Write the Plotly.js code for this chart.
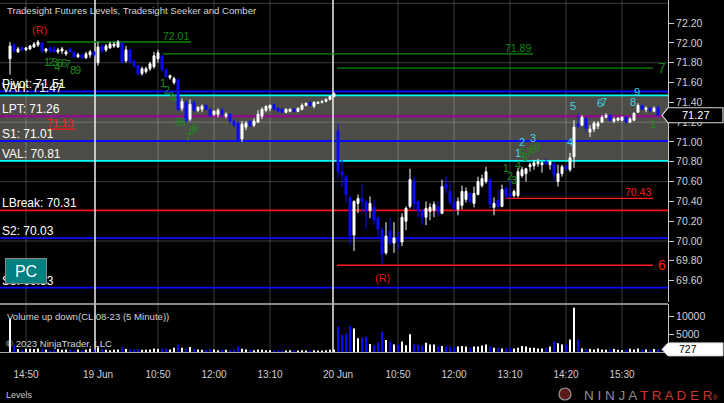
<!DOCTYPE html>
<html><head><meta charset="utf-8">
<script src="https://cdn.plot.ly/plotly-3.0.1.min.js"></script>
<style>html,body{margin:0;padding:0;background:#000;}#chart{width:724px;height:403px;}</style>
</head><body><div id="chart"></div>
<script>
// ---------- DATA (5-minute bars, CL 08-23) ----------
// session 1 (16 Jun, 22 bars), session 2 (19 Jun, 60 bars), session 3 (20 Jun, 81 bars)
const open = [
71.84,71.98,71.91,71.95,71.93,71.94,71.96,71.98,72.00,71.92,71.95,71.94,71.91,71.92,71.89,71.94,71.91,71.86,71.88,71.85,71.88,71.91,
71.80,71.97,71.93,71.95,71.97,71.96,72.00,71.82,71.93,71.82,71.77,71.69,71.71,71.74,71.76,71.84,71.87,71.73,71.65,71.60,71.63,71.34,71.40,71.23,
71.40,71.32,71.33,71.37,71.33,71.28,71.28,71.32,71.26,71.28,71.21,71.19,71.03,71.15,71.21,71.17,71.20,71.26,71.32,71.34,71.38,71.34,71.33,71.30,
71.31,71.33,71.31,71.33,71.37,71.40,71.36,71.39,71.40,71.41,71.43,71.46,
71.11,70.70,70.65,70.44,70.06,70.38,70.43,70.40,70.31,70.34,70.23,70.11,69.88,70.10,69.98,70.03,69.99,70.20,70.35,70.60,70.40,70.31,70.24,70.30,
70.31,70.35,70.28,70.57,70.50,70.39,70.32,70.36,70.42,70.48,70.38,70.47,70.56,70.60,70.62,70.34,70.41,70.35,70.53,70.48,70.46,70.46,70.66,70.68,
70.75,70.76,70.78,70.77,70.80,70.77,70.78,70.60,70.68,70.76,70.72,70.85,71.18,71.17,71.24,71.10,71.13,71.16,71.20,71.25,71.27,71.21,71.22,71.22,
71.25,71.20,71.22,71.30,71.37,71.33,71.34,71.31,71.35];
const high = [
72.01,72.00,71.96,71.97,71.96,71.98,72.01,72.03,72.01,71.95,71.97,71.97,71.95,71.96,71.93,71.96,71.92,71.90,71.89,71.91,71.93,71.92,
72.01,71.99,71.99,72.01,72.01,72.03,72.01,71.97,71.94,71.83,71.78,71.76,71.76,71.81,71.91,71.93,71.88,71.74,71.68,71.66,71.64,71.44,71.42,71.43,
71.42,71.36,71.38,71.38,71.34,71.32,71.34,71.34,71.30,71.29,71.23,71.21,71.21,71.21,71.22,71.24,71.32,71.35,71.37,71.38,71.39,71.35,71.34,71.34,
71.34,71.34,71.35,71.39,71.40,71.40,71.41,71.41,71.42,71.44,71.47,71.50,
71.19,70.82,70.67,70.46,70.41,70.47,70.58,70.41,70.45,70.41,70.25,70.14,70.19,70.23,70.19,70.09,70.28,70.35,70.73,70.65,70.41,70.32,70.40,70.38,
70.40,70.40,70.62,70.65,70.59,70.44,70.44,70.56,70.54,70.49,70.55,70.65,70.67,70.75,70.63,70.44,70.52,70.57,70.55,70.62,70.52,70.74,70.75,70.74,
70.79,70.82,70.83,70.80,70.83,70.81,70.79,70.77,70.77,70.76,70.89,71.22,71.29,71.27,71.25,71.17,71.21,71.21,71.27,71.29,71.28,71.25,71.25,71.26,
71.26,71.25,71.30,71.39,71.38,71.36,71.35,71.36,71.36];
const low = [
71.68,71.90,71.90,71.92,71.92,71.93,71.95,71.96,71.90,71.90,71.90,71.90,71.89,71.89,71.87,71.90,71.85,71.85,71.84,71.84,71.85,71.86,
71.77,71.90,71.91,71.94,71.95,71.95,71.79,71.80,71.79,71.75,71.67,71.67,71.69,71.72,71.74,71.80,71.71,71.65,71.63,71.58,71.31,71.31,71.19,71.21,
71.30,71.30,71.30,71.32,71.25,71.26,71.25,71.25,71.24,71.19,71.15,71.00,71.00,71.12,71.15,71.15,71.19,71.23,71.30,71.31,71.32,71.30,71.29,71.29,
71.30,71.30,71.30,71.32,71.36,71.36,71.34,71.39,71.39,71.40,71.42,71.45,
70.64,70.55,70.39,69.96,69.90,70.28,70.28,70.12,70.23,70.16,70.03,69.77,69.86,69.96,69.88,69.91,69.95,70.11,70.33,70.31,70.24,70.16,70.16,70.21,
70.24,70.25,70.27,70.48,70.36,70.30,70.26,70.32,70.39,70.38,70.34,70.46,70.54,70.58,70.33,70.26,70.32,70.34,70.43,70.43,70.44,70.44,70.64,70.60,
70.70,70.72,70.75,70.69,70.77,70.72,70.61,70.55,70.65,70.71,70.70,70.74,71.14,71.16,71.10,71.05,71.10,71.13,71.19,71.24,71.21,71.19,71.21,71.21,
71.19,71.19,71.21,71.30,71.32,71.30,71.30,71.30,71.26];
const close = [
71.97,71.92,71.94,71.93,71.95,71.97,71.99,72.01,71.92,71.94,71.92,71.91,71.93,71.94,71.91,71.91,71.86,71.88,71.85,71.89,71.91,71.88,
71.96,71.92,71.97,71.99,71.99,72.01,71.81,71.93,71.81,71.77,71.69,71.74,71.74,71.79,71.87,71.90,71.73,71.66,71.67,71.64,71.33,71.41,71.22,71.38,
71.32,71.35,71.36,71.33,71.27,71.31,71.32,71.28,71.28,71.21,71.17,71.02,71.18,71.19,71.17,71.21,71.28,71.33,71.36,71.37,71.33,71.31,71.30,71.33,
71.33,71.31,71.34,71.37,71.39,71.37,71.40,71.40,71.41,71.43,71.46,71.49,
70.70,70.67,70.47,70.05,70.40,70.43,70.40,70.30,70.38,70.21,70.12,69.87,70.05,69.98,70.03,69.99,70.24,70.33,70.62,70.38,70.30,70.24,70.33,70.34,
70.37,70.29,70.55,70.53,70.39,70.33,70.40,70.50,70.50,70.40,70.48,70.60,70.63,70.70,70.37,70.38,70.35,70.52,70.45,70.45,70.50,70.70,70.72,70.73,
70.77,70.79,70.80,70.79,70.78,70.80,70.67,70.68,70.75,70.73,70.84,71.15,71.16,71.25,71.14,71.13,71.19,71.19,71.25,71.27,71.22,71.23,71.24,71.25,
71.20,71.23,71.29,71.37,71.33,71.34,71.32,71.34,71.27];
const volume = [
9300,1900,800,600,900,900,800,1000,900,700,500,500,800,600,700,600,500,700,500,700,900,600,
1300,800,600,500,600,700,1300,800,900,700,800,600,600,700,1000,800,1000,800,700,1200,2000,1200,1000,1400,
900,700,600,600,800,700,500,600,600,500,700,1500,900,700,600,500,700,600,500,500,400,500,400,400,
500,400,400,500,400,400,500,400,400,500,600,700,
7000,4700,5200,7200,6500,3800,4000,4300,2200,1900,2600,5600,3300,2900,2100,2100,2900,1900,4900,2100,
2100,1800,2600,2100,2100,1500,1700,1500,1500,1300,1500,1700,1500,1200,1500,1500,1800,2100,1500,1200,
1200,1000,1000,1200,1000,1200,1700,1500,1200,1200,1000,1000,1200,1500,2900,2400,2100,2100,3500,12300,
3500,1000,800,800,700,1000,700,600,700,800,600,500,600,900,700,1000,600,700,500,800,727];

// time axis (bar index positions and labels)
const tickIdx    = [4, 22, 37, 51, 65, 82, 97, 111, 125, 139, 153];
const tickLabels = ['14:50','19 Jun','10:50','12:00','13:10','20 Jun','10:50','12:00','13:10','14:20','15:30'];
const gridIdx    = [4, 37, 51, 65, 97, 111, 125, 139, 153];
const sessionBreaks = [21.25, 80.75];
const priceTicks = [69.6,69.8,70.0,70.2,70.4,70.6,70.8,71.0,71.2,71.4,71.6,71.8,72.0,72.2];
const priceGrid  = [72.4, 71.8, 71.2, 70.6, 70.0];
const volTicks   = [5000, 10000];

// Tradesight levels
const levelNames  = ['Pivot','VAH','LPT','S1','VAL','LBreak','S2','S3'];
const levelValues = [71.51, 71.47, 71.26, 71.01, 70.81, 70.31, 70.03, 69.53];
const levelColors = ['#0a0aff','#00ffff','#9a009a','#0a0aff','#00ffff','#ff1010','#0a0aff','#0a0aff'];

// Comber / Seeker lines
const comberStart  = [9.25, 38.25, 81.75, 123.9, 81.75, 9.25];
const comberEnd    = [45.25, 130.75, 160.75, 160.75, 160.75, 16.25];
const comberValues = [72.01, 71.89, 71.745, 70.43, 69.755, 71.13];
const comberColors = ['#0d8a0d','#0d8a0d','#0d8a0d','#ff1a1a','#ff1a1a','#ff1a1a'];
const comberLabels = ['72.01','71.89','7','70.43','6','71.13'];
const comberLabelSide = ['above','above','right','above','right','above'];

// sequence counts
const greenNumX = [9.25,10.25,11.25,11.75,12.5,13.5,14.5,15.75,17, 38.2,39.2,40.25,41,42,43.2,44.5,45.4,46.25, 123.9,125,126,126.9,128,128.75,129.8,130.8,131.8, 160.8];
const greenNumY = [71.81,71.81,71.81,71.76,71.80,71.80,71.79,71.73,71.73, 71.60,71.53,71.46,71.44,71.20,71.20,71.05,71.12,71.14, 70.74,70.66,70.62,70.77,70.89,70.85,70.90,70.93,70.95, 71.18];
const greenNumText = ['1','2','3','4','5','6','7','8','9','1','2','3','4','5','6','7','8','9','1','2','3','4','5','6','7','8','9','1'];
const cyanNumX = [126.9,127.9,130.8,140,140.8,147.5,148.5,155.7,156.7];
const cyanNumY = [70.89,71.00,71.04,71.00,71.36,71.39,71.40,71.40,71.50];
const cyanNumText = ['1','2','3','4','5','6','7','8','9'];
const revX = [7.25, 93];
const revY = [72.13, 69.63];

// ---------- LAYOUT GEOMETRY ----------
const W = 724, H = 403;
const FONT = 'Liberation Sans, Arial, sans-serif';
const xDomEnd = 668 / W;
const priceDom = [1 - 302 / H, 1];
const volDom = [1 - 352 / H, 1 - 304 / H];
const priceRange = [69.384, 72.434];
const volRange = [0, 13333];
const px = v => v / W;
const py = v => 1 - v / H;
const priceToPaper = p => priceDom[0] + (p - priceRange[0]) / (priceRange[1] - priceRange[0]) * (priceDom[1] - priceDom[0]);
const volToPaper = v => volDom[0] + (v - volRange[0]) / (volRange[1] - volRange[0]) * (volDom[1] - volDom[0]);

const idx = open.map((_, i) => i);
const volColors = open.map((o, i) => close[i] >= o ? '#ffffff' : '#0a0aff');

const traces = [
  {type:'candlestick', x: idx, open, high, low, close, xaxis:'x', yaxis:'y',
   increasing:{line:{color:'#ffffff', width:1}, fillcolor:'#ffffff'},
   decreasing:{line:{color:'#0a0aff', width:1}, fillcolor:'#0a0aff'},
   whiskerwidth:0, hoverinfo:'skip', showlegend:false},
  {type:'bar', x: idx, y: volume, xaxis:'x', yaxis:'y2', width:0.5,
   marker:{color: volColors, line:{width:0}}, hoverinfo:'skip', showlegend:false}
];

const shapes = [];
const gridCol = 'rgba(255,255,255,0.23)';
// value area box
shapes.push({type:'rect', xref:'paper', yref:'y', x0:0, x1:xDomEnd,
  y0: levelValues[levelNames.indexOf('VAL')], y1: levelValues[levelNames.indexOf('VAH')],
  fillcolor:'#4d4c46', line:{width:0}, layer:'below'});
// grid
priceGrid.forEach(p => shapes.push({type:'line', xref:'paper', yref:'y', x0:0, x1:xDomEnd, y0:p, y1:p, line:{color:gridCol, width:1}, layer:'below'}));
gridIdx.forEach(g => shapes.push({type:'line', xref:'x', yref:'paper', x0:g, x1:g, y0:volDom[0], y1:1, line:{color:gridCol, width:1}, layer:'below'}));
// levels
levelValues.forEach((v, k) => shapes.push({type:'line', xref:'paper', yref:'y', x0:0, x1:xDomEnd, y0:v, y1:v, line:{color:levelColors[k], width:1.8}, layer:'below'}));
// comber lines
comberValues.forEach((v, k) => shapes.push({type:'line', xref:'x', yref:'y', x0:comberStart[k], x1:comberEnd[k], y0:v, y1:v, line:{color:comberColors[k], width:1.3}, layer:'below'}));
// session breaks
sessionBreaks.forEach(s => shapes.push({type:'line', xref:'x', yref:'paper', x0:s, x1:s, y0:volDom[0], y1:1, line:{color:'#f0f0f0', width:1.5}, layer:'below'}));
// panel separator
shapes.push({type:'line', xref:'paper', yref:'paper', x0:0, x1:xDomEnd, y0:py(304), y1:py(304), line:{color:'#b4b4b4', width:1.5}});

// last value markers
const lastClose = close[close.length - 1];
const lastVol = volume[volume.length - 1];
function markerPath(yc, half) {
  return `M ${px(662)},${yc} L ${px(668)},${yc + half} L ${px(723)},${yc + half} L ${px(723)},${yc - half} L ${px(668)},${yc - half} Z`;
}
const ly = priceToPaper(lastClose), lv = volToPaper(lastVol);
shapes.push({type:'path', xref:'paper', yref:'paper', path: markerPath(ly, 7.5 / H), fillcolor:'#000000', line:{color:'#d8d8d8', width:1.2}});
shapes.push({type:'path', xref:'paper', yref:'paper', path: markerPath(lv, 6.5 / H), fillcolor:'#ffffff', line:{color:'#d8d8d8', width:1}});
// logo circle
shapes.push({type:'circle', xref:'paper', yref:'paper', x0:px(559), x1:px(571), y0:py(400), y1:py(388), fillcolor:'#5a1a1a', line:{color:'#9a9a9a', width:1.2}});

const ann = [];
const txt = (o) => ann.push(Object.assign({showarrow:false, font:{family:FONT, size:10, color:'#d0d0d0'}}, o));

// title & panel labels
txt({xref:'paper', yref:'paper', x:px(5), y:py(10), xanchor:'left', yanchor:'middle', text:'Tradesight Futures Levels, Tradesight Seeker and Comber', font:{family:FONT, size:9.6, color:'#d4d4d4'}});
txt({xref:'paper', yref:'paper', x:px(5), y:py(316), xanchor:'left', yanchor:'middle', text:'Volume up down(CL 08-23 (5 Minute))', font:{family:FONT, size:9.6, color:'#d4d4d4'}});
txt({xref:'paper', yref:'paper', x:px(4), y:py(343), xanchor:'left', yanchor:'middle', text:'© 2023 NinjaTrader, LLC', font:{family:FONT, size:9.6, color:'#d4d4d4'}});
txt({xref:'paper', yref:'paper', x:px(4), y:py(395), xanchor:'left', yanchor:'middle', text:'Levels', font:{family:FONT, size:9, color:'#c8c8c8'}});
txt({xref:'paper', yref:'paper', x:px(721), y:py(395), xanchor:'right', yanchor:'middle',
  text:'<span style="color:#8c8c8c">N I N J A </span><span style="color:#c9362c">T R A D E R</span><span style="color:#c9362c;font-size:7px">®</span>', font:{family:FONT, size:13.5, color:'#8c8c8c'}});

// level labels
levelNames.forEach((n, k) => txt({xref:'paper', yref:'y', x:0, y:levelValues[k], xanchor:'left', yanchor:'bottom', yshift:-2,
  text: n + ': ' + levelValues[k].toFixed(2), font:{family:FONT, size:12, color:'#ffffff'}}));

// comber labels
comberValues.forEach((v, k) => {
  if (comberLabelSide[k] === 'above') {
    txt({xref:'x', yref:'y', x:comberEnd[k], y:v, xanchor:'right', yanchor:'bottom', yshift:-2, text:comberLabels[k], font:{family:FONT, size:10.5, color:comberColors[k]}});
  } else {
    txt({xref:'x', yref:'y', x:comberEnd[k], y:v, xanchor:'left', yanchor:'middle', xshift:3, text:comberLabels[k], font:{family:FONT, size:14, color:comberColors[k]}});
  }
});

// sequence numbers
greenNumX.forEach((x, k) => txt({xref:'x', yref:'y', x, y:greenNumY[k], xanchor:'center', yanchor:'middle', text:greenNumText[k], font:{family:FONT, size:11, color:'#1a8a1a'}}));
cyanNumX.forEach((x, k) => txt({xref:'x', yref:'y', x, y:cyanNumY[k], xanchor:'center', yanchor:'middle', text:cyanNumText[k], font:{family:FONT, size:11, color:'#3ed6e8'}}));
revX.forEach((x, k) => txt({xref:'x', yref:'y', x, y:revY[k], xanchor:'center', yanchor:'middle', text:'(R)', font:{family:FONT, size:11, color:'#e01010'}}));

// last value labels
txt({xref:'paper', yref:'paper', x:px(696), y:ly, xanchor:'center', yanchor:'middle', text:lastClose.toFixed(2), font:{family:FONT, size:11, color:'#ffffff'}});
txt({xref:'paper', yref:'paper', x:px(688), y:lv, xanchor:'center', yanchor:'middle', text:String(lastVol), font:{family:FONT, size:10.5, color:'#000000'}});

// PC button
txt({xref:'paper', yref:'paper', x:px(5), y:py(258), xanchor:'left', yanchor:'top', text:'PC', width:38, height:22,
  bgcolor:'#008080', bordercolor:'#8a8a8a', borderwidth:1, font:{family:FONT, size:16, color:'#ffffff'}});

const axisFont = {family:FONT, size:10.5, color:'#d0d0d0'};
const layout = {
  width: W, height: H,
  margin:{l:0, r:0, t:0, b:0},
  paper_bgcolor:'#000000', plot_bgcolor:'rgba(0,0,0,0)',
  showlegend:false, dragmode:false, hovermode:false,
  xaxis:{domain:[0, xDomEnd], range:[-2.5, 164.5], anchor:'y2', showgrid:false, zeroline:false,
    tickmode:'array', tickvals: tickIdx, ticktext: tickLabels, ticks:'outside', ticklen:13, tickcolor:'rgba(0,0,0,0)',
    tickfont:{family:FONT, size:10, color:'#d0d0d0'}, showline:true, linecolor:'#a8a8a8', linewidth:1,
    rangeslider:{visible:false}, fixedrange:true},
  yaxis:{domain: priceDom, range: priceRange, side:'right', anchor:'x', showgrid:false, zeroline:false,
    tickmode:'array', tickvals: priceTicks, ticktext: priceTicks.map(v => v.toFixed(2)),
    ticks:'outside', ticklen:5, tickcolor:'#c8c8c8', showline:true, linecolor:'#c8c8c8', linewidth:1,
    tickfont: axisFont, fixedrange:true},
  yaxis2:{domain: volDom, range: volRange, side:'right', anchor:'x', showgrid:false, zeroline:false,
    tickmode:'array', tickvals: volTicks, ticktext: volTicks.map(String),
    ticks:'outside', ticklen:5, tickcolor:'#c8c8c8', showline:true, linecolor:'#c8c8c8', linewidth:1,
    tickfont: axisFont, fixedrange:true},
  shapes, annotations: ann
};

Plotly.newPlot('chart', traces, layout, {displayModeBar:false, staticPlot:true});
</script></body></html>
